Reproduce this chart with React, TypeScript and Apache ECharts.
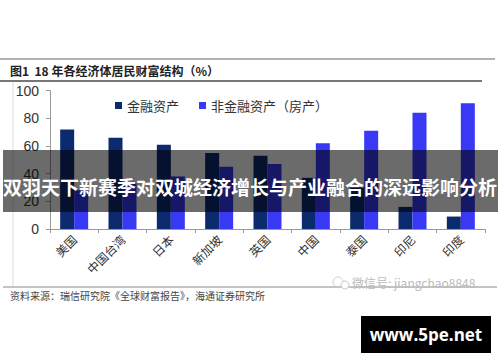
import React, { useEffect, useRef } from "react";
import * as echarts from "echarts";

const categories = ["美国", "中国台湾", "日本", "新加坡", "英国", "中国", "泰国", "印尼", "印度"];
const financial = [72, 66, 61, 55, 53, 37, 30, 16, 9];
const nonFinancial = [28, 33, 38, 45, 47, 62, 71, 84, 91];
const yTicks = [0, 20, 40, 60, 80, 100];

const CJK = "'Noto Sans CJK SC', 'Noto Sans', sans-serif";

export default function App() {
  const ref = useRef<HTMLDivElement>(null);
  useEffect(() => {
    if (!ref.current) return;
    const chart = echarts.init(ref.current, null, { renderer: "svg" });
    chart.setOption({
      animation: false,
      backgroundColor: "#ffffff",
      legend: {
        left: 110,
        top: 94,
        itemWidth: 7,
        itemHeight: 7,
        itemGap: 20,
        icon: "rect",
        textStyle: { fontFamily: CJK, fontSize: 13, color: "#333" },
        data: ["金融资产", "非金融资产（房产）"],
      },
      grid: { left: 50, right: 15, top: 90.7, bottom: 133, containLabel: false },
      xAxis: {
        type: "category",
        data: categories,
        axisLine: { lineStyle: { color: "#999" } },
        axisTick: { show: true, length: 4, lineStyle: { color: "#999" } },
        axisLabel: { rotate: 45, fontFamily: CJK, fontSize: 12, color: "#333", margin: 8 },
      },
      yAxis: {
        type: "value",
        min: yTicks[0],
        max: yTicks[yTicks.length - 1],
        interval: 20,
        axisLine: { show: true, lineStyle: { color: "#999" } },
        axisTick: { show: true, length: 4, lineStyle: { color: "#999" } },
        splitLine: { show: false },
        axisLabel: { fontFamily: "Arial, 'Liberation Sans', sans-serif", fontSize: 14, color: "#333", margin: 11 },
      },
      series: [
        {
          name: "金融资产",
          type: "bar",
          data: financial,
          barWidth: 14,
          barGap: "0%",
          itemStyle: { color: "#0c2a6e" },
        },
        {
          name: "非金融资产（房产）",
          type: "bar",
          data: nonFinancial,
          barWidth: 14,
          itemStyle: { color: "#3838f5" },
        },
      ],
      graphic: [
        { type: "line", shape: { x1: 0, y1: 59, x2: 495, y2: 59 }, style: { stroke: "#666", lineWidth: 1 } },
        {
          type: "text",
          left: 10,
          top: 64,
          style: { text: "图1  18 年各经济体居民财富结构（%）", fontFamily: CJK, fontSize: 12, fontWeight: "bold", fill: "#222" },
        },
        { type: "line", shape: { x1: 0, y1: 81, x2: 482, y2: 81 }, style: { stroke: "#777", lineWidth: 2 } },
        { type: "line", shape: { x1: 13, y1: 82, x2: 13, y2: 287 }, style: { stroke: "#ddd", lineWidth: 1 } },
        { type: "line", shape: { x1: 3, y1: 287, x2: 497, y2: 287 }, style: { stroke: "#888", lineWidth: 1 } },
        {
          type: "text",
          left: 10,
          top: 290,
          style: { text: "资料来源：瑞信研究院《全球财富报告》，海通证券研究所", fontFamily: CJK, fontSize: 10, fill: "#444" },
        },
        { type: "circle", shape: { cx: 338, cy: 282, r: 5 }, style: { fill: "none", stroke: "#ccc", lineWidth: 1 } },
        { type: "circle", shape: { cx: 345, cy: 285, r: 4 }, style: { fill: "#fff", stroke: "#ccc", lineWidth: 1 } },
        {
          type: "text",
          left: 352,
          top: 276,
          style: { text: "微信号: jiangchao8848", fontFamily: CJK, fontSize: 12, fill: "#bbb" },
        },
        {
          type: "rect",
          z: 100,
          shape: { x: 3, y: 150, width: 495, height: 62 },
          style: { fill: "rgba(0,0,0,0.58)" },
        },
        {
          type: "text",
          z: 101,
          x: 250,
          y: 186,
          style: {
            text: "双羽天下新赛季对双城经济增长与产业融合的深远影响分析",
            fontFamily: CJK,
            fontSize: 19,
            fontWeight: "bold",
            fill: "#ffffff",
            align: "center",
            verticalAlign: "middle",
          },
        },
        {
          type: "rect",
          z: 100,
          shape: { x: 361, y: 316, width: 130, height: 37 },
          style: { fill: "#000" },
        },
        {
          type: "text",
          z: 101,
          x: 426,
          y: 334.5,
          style: {
            text: "www.5pe.net",
            fontFamily: "'Open Sans', 'DejaVu Sans', sans-serif",
            fontSize: 17,
            fontWeight: "bold",
            fill: "#fff",
            align: "center",
            verticalAlign: "middle",
          },
        },
      ],
    });
    return () => chart.dispose();
  }, []);
  return <div ref={ref} style={{ position: "fixed", left: 0, top: 0, width: 500, height: 362 }} />;
}
